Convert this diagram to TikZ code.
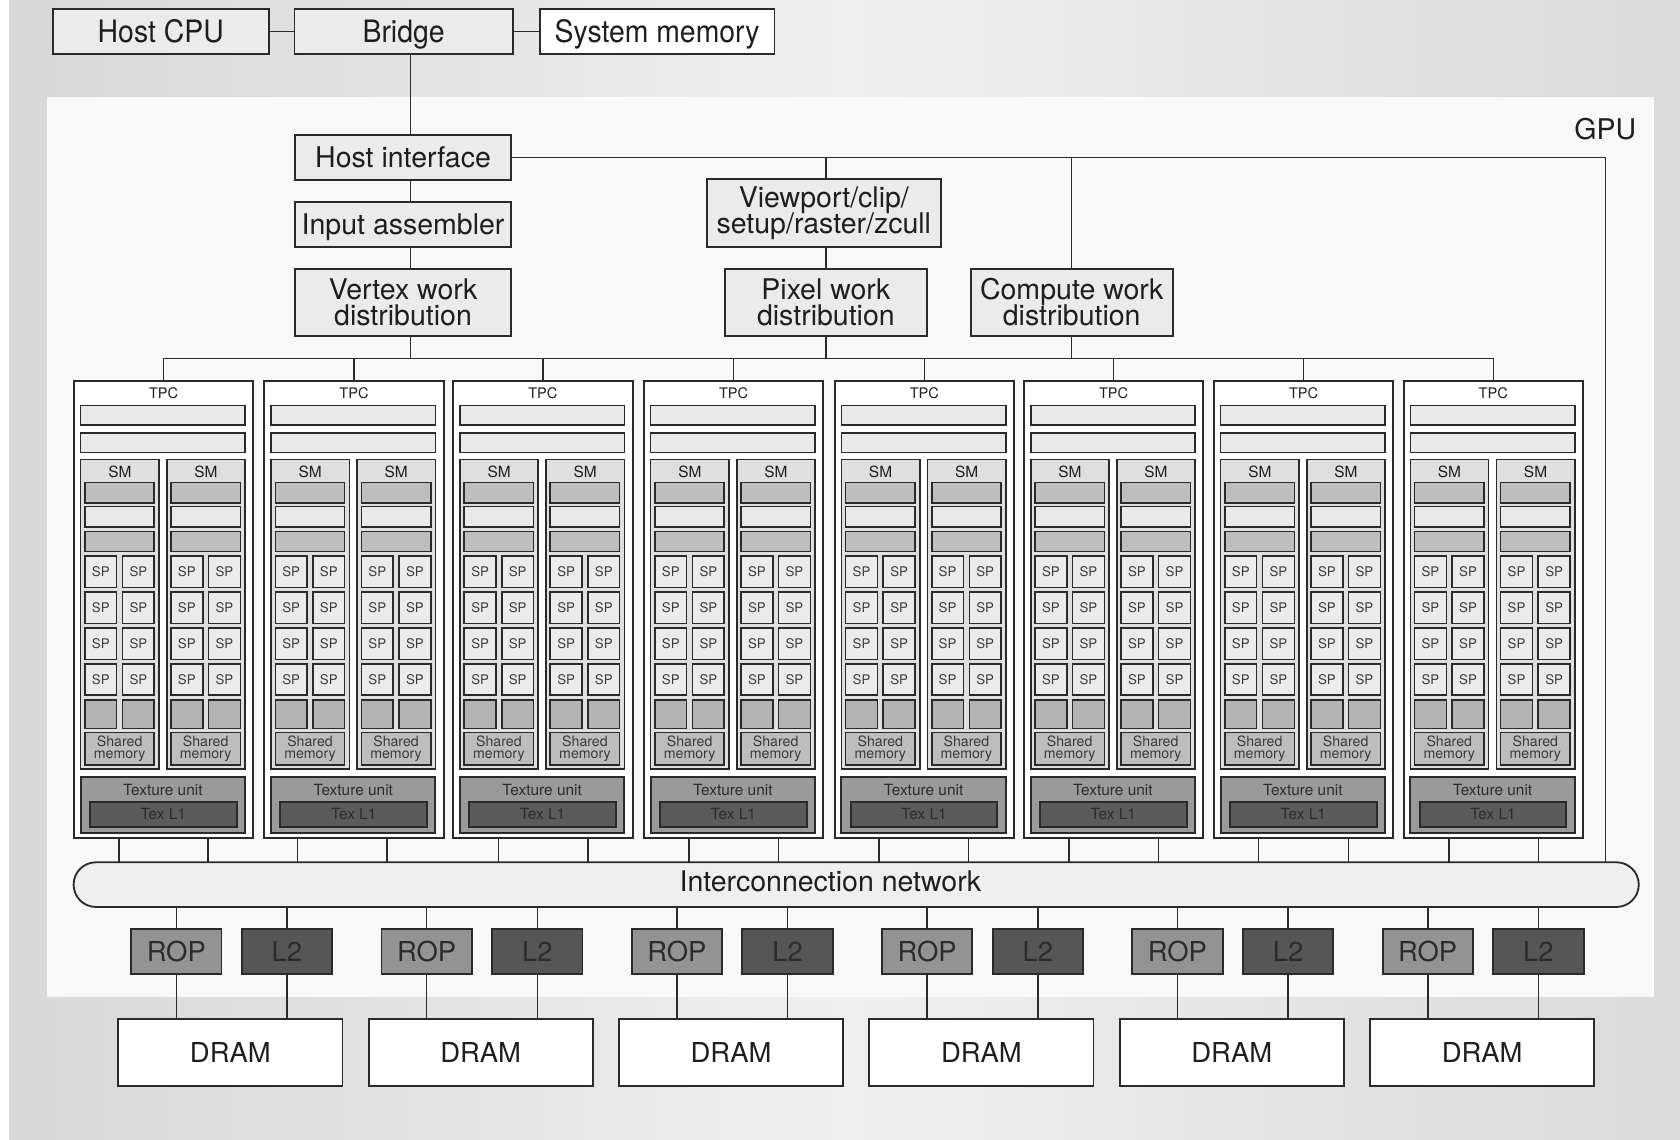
\documentclass[tikz,border=0pt]{standalone}
\usepackage{fontspec}
\setmainfont{TeX Gyre Heros}
\newfontfamily\condf[FakeStretch=0.92]{TeX Gyre Heros}
\definecolor{lc}{HTML}{2A2A2A}
\definecolor{tc}{HTML}{1E1E1E}
\definecolor{bgl}{HTML}{D7D7D7}
\definecolor{bgm}{HTML}{EFEFEF}
\definecolor{bgr}{HTML}{DADADA}
\definecolor{gpuc}{HTML}{F8F8F8}
\definecolor{boxc}{HTML}{EBEBEB}
\definecolor{barc}{HTML}{E9E9E9}
\definecolor{smfill}{HTML}{DFDFDF}
\definecolor{dbar}{HTML}{BEBEBE}
\definecolor{spc}{HTML}{EBEBEB}
\definecolor{sqc}{HTML}{B3B3B3}
\definecolor{shc}{HTML}{BDBDBD}
\definecolor{texc}{HTML}{9A9A9A}
\definecolor{tlc}{HTML}{5B5B5B}
\definecolor{netc}{HTML}{EFEFEF}
\definecolor{ropc}{HTML}{939393}
\definecolor{ltc}{HTML}{565656}
\definecolor{dtc}{HTML}{2C2C2C}
\definecolor{sptc}{HTML}{3A3A3A}
\newcommand\bx[7]{\node[#6, minimum width={((#4)-(#2))*0.5pt}, minimum height={((#5)-(#3))*0.5pt}] (#1) at ({((#2)+(#4))/2},{((#3)+(#5))/2}) {#7};}
\newcommand\tightlines{\lineskiplimit=-30pt\lineskip=0pt}
\tikzset{
 ln/.style={draw=lc, line width=0.7pt},
 box/.style={draw=lc, line width=0.85pt, inner sep=0pt, outer sep=0pt, text=tc, align=center},
 tb/.style={draw=lc, line width=0.75pt, inner sep=0pt, outer sep=0pt, text=tc, align=center},
 topf/.style={font=\condf\fontsize{14.4}{14}\selectfont, text height=10.4pt, text depth=0pt},
 bigf/.style={font=\fontsize{13.3}{12.2}\selectfont\tightlines},
 onel/.style={text height=9.6pt, text depth=0pt},
 midf/.style={font=\fontsize{12.8}{12}\selectfont},
 tpcf/.style={font=\fontsize{6.8}{7}\selectfont},
 smf/.style={font=\fontsize{7.2}{7}\selectfont},
 spf/.style={font=\fontsize{6.2}{6}\selectfont},
 shf/.style={font=\fontsize{6.6}{5.9}\selectfont\tightlines},
 txf/.style={font=\fontsize{7.2}{7}\selectfont},
 lbl/.style={inner sep=0pt, text=tc},
}
\begin{document}
\begin{tikzpicture}[x=0.5pt,y=-0.5pt]
\useasboundingbox (0,0) rectangle (1568,1064);
\fill[white] (0,0) rectangle (1568,1064);
\shade[left color=bgl, right color=bgr, middle color=bgm] (8.6,0) rectangle (1568,1064);
\fill[gpuc] (44.3,90.8) rectangle (1543.7,930.8);
\node[lbl,bigf,anchor=base east] (gpul) at (1527.5,130) {GPU};

% top row
\bx{cpu}{49.1}{8.4}{251}{50.4}{box,fill=boxc,topf}{Host CPU}
\bx{bridge}{274.8}{8.4}{478.6}{50.4}{box,fill=boxc,topf}{Bridge}
\bx{sysmem}{503.8}{8.4}{722.8}{50.4}{box,fill=white,topf}{System memory}

% front end
\bx{hif}{275.2}{126}{477.1}{168}{box,fill=boxc,bigf,onel}{Host interface}
\bx{ia}{275.2}{188.2}{477.1}{230.2}{box,fill=boxc,bigf,onel}{Input assembler}
\bx{vwd}{275.2}{250.8}{477.1}{313.6}{box,fill=boxc,bigf}{Vertex work\\distribution}
\bx{vp}{659.5}{167.4}{878.3}{230.2}{box,fill=boxc,bigf}{Viewport/clip/\\setup/raster/zcull}
\bx{pwd}{676.7}{250.8}{864.9}{313.6}{box,fill=boxc,bigf}{Pixel work\\distribution}
\bx{cwd}{906}{250.8}{1094.5}{313.6}{box,fill=boxc,bigf}{Compute work\\distribution}

% TPCs
\foreach \x [count=\i] in {69,246.7,423,601,779,955.7,1133,1310} {
  \bx{tpc\i}{\x}{355.3}{\x+167.4}{782.4}{tb,fill=white,line width=0.9pt}{}
  \node[lbl,tpcf] (tpcl\i) at (\x+83.7,367) {TPC};
  \bx{tba\i}{\x+6.3}{378.6}{\x+159.7}{396.7}{tb,fill=barc}{}
  \bx{tbb\i}{\x+6.3}{404.4}{\x+159.7}{422.2}{tb,fill=barc}{}
  \foreach \s [count=\j] in {6.3,86.6} {
    \bx{sm-\i-\j}{\x+\s}{428.7}{\x+\s+73.1}{718}{tb,fill=smfill}{}
    \node[lbl,smf] (sml-\i-\j) at (\x+\s+36.55,440.8) {SM};
    \bx{sma-\i-\j}{\x+\s+4}{450.5}{\x+\s+68.7}{469.2}{tb,fill=dbar}{}
    \bx{smb-\i-\j}{\x+\s+4}{472.9}{\x+\s+68.7}{491.6}{tb,fill=barc}{}
    \bx{smc-\i-\j}{\x+\s+4}{496.2}{\x+\s+68.7}{514.9}{tb,fill=dbar}{}
    \foreach \ya/\yb [count=\k] in {518.9/548.2,552.8/581.8,586.1/615.4,619.7/648.7} {
      \bx{spa-\i-\j-\k}{\x+\s+4}{\ya}{\x+\s+33.6}{\yb}{tb,fill=spc,spf,text=sptc}{SP}
      \bx{spb-\i-\j-\k}{\x+\s+39.1}{\ya}{\x+\s+68.7}{\yb}{tb,fill=spc,spf,text=sptc}{SP}
    }
    \bx{sqa-\i-\j}{\x+\s+4}{653.3}{\x+\s+33.6}{679.8}{tb,fill=sqc}{}
    \bx{sqb-\i-\j}{\x+\s+39.1}{653.3}{\x+\s+68.7}{679.8}{tb,fill=sqc}{}
    \bx{shm-\i-\j}{\x+\s+4}{683.8}{\x+\s+68.7}{714}{tb,fill=shc,shf,text=sptc}{Shared\\memory}
  }
  \bx{tex\i}{\x+6.3}{724.9}{\x+159.7}{777.2}{tb,fill=texc,line width=0.9pt}{}
  \node[lbl,txf,text=dtc] (texl\i) at (\x+83,737.3) {Texture unit};
  \bx{tl\i}{\x+15}{748.2}{\x+151.9}{771.6}{tb,fill=tlc,txf,text=dtc,line width=0.9pt}{Tex L1}
}

% interconnection network
\bx{net}{68.7}{804.8}{1529.5}{846.5}{box,fill=netc,rounded corners=10.4pt}{}
\node[lbl,bigf,anchor=base] (netl) at (775,832.2) {Interconnection network};

% ROP / L2 / DRAM
\foreach \k in {0,...,5} {
  \pgfmathsetmacro\rl{122.4+233.6*\k}
  \pgfmathsetmacro\dl{110.4+233.66*\k}
  \bx{rop\k}{\rl}{867}{\rl+84.3}{909}{box,fill=ropc,midf,text=dtc}{ROP}
  \bx{ltwo\k}{\rl+103.3}{867}{\rl+187.6}{909}{box,fill=ltc,midf,text=dtc}{L2}
  \bx{dram\k}{\dl}{951}{\dl+209.2}{1013.3}{box,fill=white,midf}{DRAM}
  \draw[ln] (net.south -| rop\k) -- (rop\k.north);
  \draw[ln] (net.south -| ltwo\k) -- (ltwo\k.north);
  \draw[ln] (rop\k.south) -- (dram\k.north -| rop\k);
  \draw[ln] (ltwo\k.south) -- (dram\k.north -| ltwo\k);
}

% connectors
\coordinate (vx) at (383.3,0);
\coordinate (px) at (771,0);
\coordinate (cx) at (1000.2,0);
\coordinate (rx) at (1498.3,0);
\coordinate (bus) at (0,334.4);
\draw[ln] (cpu.east) -- (bridge.west);
\draw[ln] (bridge.east) -- (sysmem.west);
\draw[ln] (bridge.south -| vx) -- (hif.north -| vx);
\draw[ln] (hif.south -| vx) -- (ia.north -| vx);
\draw[ln] (ia.south -| vx) -- (vwd.north -| vx);
\draw[ln] (vwd.south -| vx) -- (bus -| vx);
\draw[ln] (hif.east) -- (hif.east -| rx) -- (net.north -| rx);
\draw[ln] (hif.east -| px) -- (vp.north -| px);
\draw[ln] (vp.south -| px) -- (pwd.north -| px);
\draw[ln] (pwd.south -| px) -- (bus -| px);
\draw[ln] (hif.east -| cx) -- (cwd.north -| cx);
\draw[ln] (cwd.south -| cx) -- (bus -| cx);
\draw[ln] (bus -| tpc1.north) -- (bus -| tpc8.north);
\foreach \i in {1,...,8} {
  \draw[ln] (bus -| tpc\i.north) -- (tpc\i.north);
}
\foreach \i/\a/\b in {1/111/194.3,2/277.7/361,3/465.3/548.7,4/643.1/726.4,5/820.4/903.8,6/997.7/1081.3,7/1174.8/1258.4,8/1352.3/1435.9} {
  \coordinate (ca\i) at (\a,0);
  \coordinate (cb\i) at (\b,0);
  \draw[ln] (tpc\i.south -| ca\i) -- (net.north -| ca\i);
  \draw[ln] (tpc\i.south -| cb\i) -- (net.north -| cb\i);
}
\end{tikzpicture}
\end{document}
